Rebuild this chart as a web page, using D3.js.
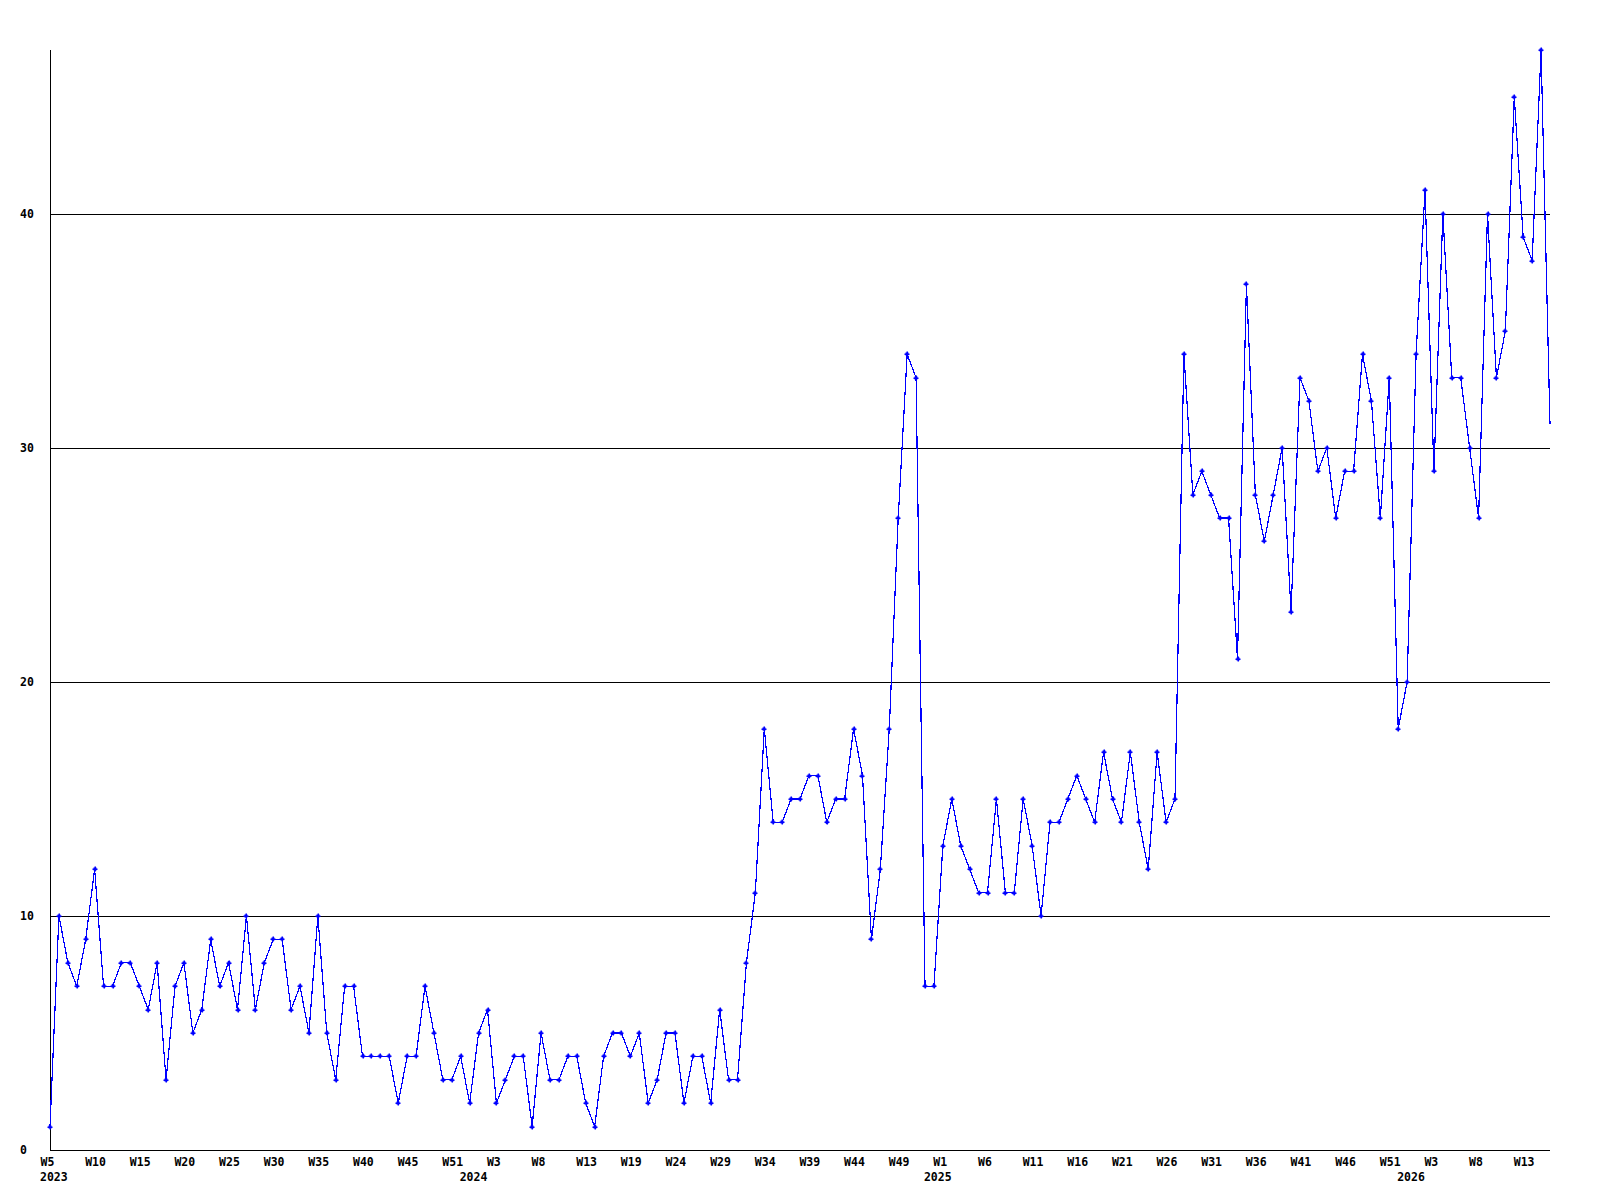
<!DOCTYPE html>
<html lang="en">
<head>
  <meta charset="UTF-8">
  <title>Weekly count</title>
  <script src="https://cdn.jsdelivr.net/npm/d3@7"></script>
  <style>
    body { margin: 0; background: #fff; }
    text {
      font-family: 'DejaVu Sans Mono', monospace;
      font-weight: bold;
      font-size: 11.5px;
      fill: #000;
    }
  </style>
</head>
<body>
  <div id="chart"></div>
  <script>
    // one value per week, 2023 W5 .. 2026 W16
    const values = [
      1, 10, 8, 7, 9, 12, 7, 7, 8, 8,
      7, 6, 8, 3, 7, 8, 5, 6, 9, 7,
      8, 6, 10, 6, 8, 9, 9, 6, 7, 5,
      10, 5, 3, 7, 7, 4, 4, 4, 4, 2,
      4, 4, 7, 5, 3, 3, 4, 2, 5, 6,
      2, 3, 4, 4, 1, 5, 3, 3, 4, 4,
      2, 1, 4, 5, 5, 4, 5, 2, 3, 5,
      5, 2, 4, 4, 2, 6, 3, 3, 8, 11,
      18, 14, 14, 15, 15, 16, 16, 14, 15, 15,
      18, 16, 9, 12, 18, 27, 34, 33, 7, 7,
      13, 15, 13, 12, 11, 11, 15, 11, 11, 15,
      13, 10, 14, 14, 15, 16, 15, 14, 17, 15,
      14, 17, 14, 12, 17, 14, 15, 34, 28, 29,
      28, 27, 27, 21, 37, 28, 26, 28, 30, 23,
      33, 32, 29, 30, 27, 29, 29, 34, 32, 27,
      33, 18, 20, 34, 41, 29, 40, 33, 33, 30,
      27, 40, 33, 35, 45, 39, 38, 47, 31
    ];

    // a week label on every 5th point
    const weekLabels = ['W5', 'W10', 'W15', 'W20', 'W25', 'W30', 'W35', 'W40', 'W45', 'W51',
      'W3', 'W8', 'W13', 'W19', 'W24', 'W29', 'W34', 'W39', 'W44', 'W49',
      'W1', 'W6', 'W11', 'W16', 'W21', 'W26', 'W31', 'W36', 'W41', 'W46',
      'W51', 'W3', 'W8', 'W13'];
    const labelEvery = 5;

    const yearLabels = ['2023', '2024', '2025', '2026'];
    const yearStart = [0, 47, 99, 152]; // point index of the first week of each year

    const yTicks = [0, 10, 20, 30, 40];
    const yMax = 47;

    let margin = { left: 50, right: 50, top: 50, bottom: 50 };
    let W = 1600, H = 1200;

    let svg = d3.select('#chart').append('svg')
      .attr('width', W)
      .attr('height', H);

    let x = d3.scaleLinear()
      .domain([0, values.length - 1])
      .range([margin.left, W - margin.right]);
    let y = d3.scaleLinear()
      .domain([0, yMax])
      .range([H - margin.bottom, margin.top]);

    // horizontal grid + y labels
    let yAxis = d3.axisLeft(y)
      .tickValues(yTicks)
      .tickSize(-(W - margin.left - margin.right))
      .tickFormat(d3.format('d'));
    let yg = svg.append('g')
      .attr('transform', `translate(${margin.left},0)`)
      .call(yAxis);
    yg.select('.domain').remove();
    yg.selectAll('.tick line')
      .attr('stroke', '#000')
      .attr('shape-rendering', 'crispEdges');
    yg.selectAll('.tick text')
      .attr('x', 20 - margin.left)
      .attr('dy', '0.32em')
      .attr('text-anchor', 'start')
      .attr('font-family', null)
      .attr('font-size', null);

    // axis lines
    svg.append('line')
      .attr('x1', x(0)).attr('x2', x(0))
      .attr('y1', margin.top).attr('y2', y(0))
      .attr('stroke', '#000')
      .attr('shape-rendering', 'crispEdges');
    svg.append('line')
      .attr('x1', x(0)).attr('x2', x(values.length - 1))
      .attr('y1', y(0)).attr('y2', y(0))
      .attr('stroke', '#000')
      .attr('shape-rendering', 'crispEdges');

    // week labels
    let xAxis = d3.axisBottom(x)
      .tickValues(weekLabels.map((t, i) => i * labelEvery))
      .tickFormat((d, i) => weekLabels[i])
      .tickSize(0);
    let xg = svg.append('g')
      .attr('transform', `translate(0,${y(0)})`)
      .call(xAxis);
    xg.select('.domain').remove();
    xg.selectAll('.tick text')
      .attr('x', -10)
      .attr('y', 16)
      .attr('dy', null)
      .attr('text-anchor', 'start')
      .attr('font-family', null)
      .attr('font-size', null);

    // years
    svg.append('g').selectAll('text')
      .data(yearLabels)
      .enter().append('text')
      .attr('x', (d, i) => x(yearStart[i]) - 10)
      .attr('y', y(0) + 31)
      .text(d => d);

    // the series
    let line = d3.line()
      .x((d, i) => x(i))
      .y(d => y(d));
    svg.append('path')
      .datum(values)
      .attr('d', line)
      .attr('fill', 'none')
      .attr('stroke', '#0000ff')
      .attr('stroke-width', 1.2)
      .attr('shape-rendering', 'crispEdges');

    // small plus markers (the last, unfinished week has none)
    let marks = svg.append('g').attr('fill', '#0000ff');
    values.slice(0, -1).forEach((v, i) => {
      let cx = Math.round(x(i)), cy = Math.round(y(v));
      marks.append('rect')
        .attr('x', cx - 2.5).attr('y', cy - 0.5)
        .attr('width', 5).attr('height', 1.5);
      marks.append('rect')
        .attr('x', cx - 0.5).attr('y', cy - 2.5)
        .attr('width', 1.5).attr('height', 5);
      marks.append('rect')
        .attr('x', cx - 1.5).attr('y', cy - 1.5)
        .attr('width', 3).attr('height', 3);
    });
  </script>
</body>
</html>
